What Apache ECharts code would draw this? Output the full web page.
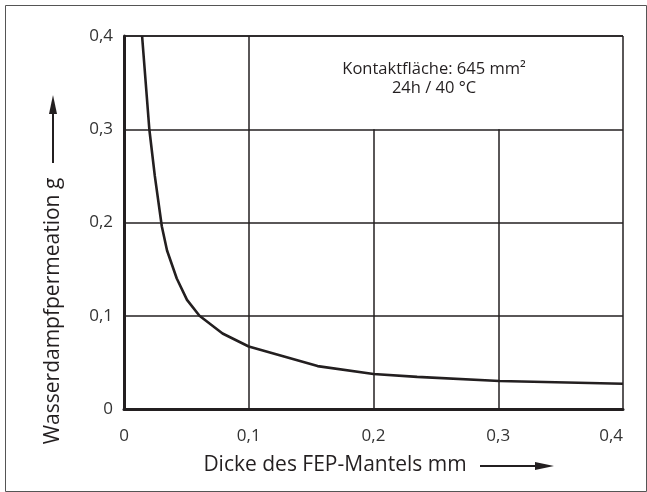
<!DOCTYPE html>
<html>
<head>
<meta charset="utf-8">
<script src="https://cdn.jsdelivr.net/npm/echarts@6/dist/echarts.min.js"></script>
<style>
  html, body { margin: 0; padding: 0; background: #fff; }
  #chart { width: 647px; height: 492px; }
</style>
</head>
<body>
<div id="chart"></div>
<script>
// FEP jacket thickness (mm) vs. water vapour permeation (g)
const thickness = [0.0145, 0.0203, 0.0247, 0.0303, 0.0345, 0.0423, 0.0505, 0.0605, 0.0790, 0.1000, 0.1290, 0.1552, 0.2000, 0.2350, 0.3010, 0.4000];
const permeation = [0.400, 0.300, 0.250, 0.196, 0.170, 0.140, 0.117, 0.100, 0.081, 0.067, 0.056, 0.046, 0.0375, 0.0345, 0.030, 0.027];

// Vertical grid lines: x position and upper end (the top band holds the note box)
const gridX = [0.1, 0.2, 0.3];
const gridTop = [0.4, 0.3, 0.3];

const xTicks = ['0', '0,1', '0,2', '0,3', '0,4'];
const yTicks = ['0', '0,1', '0,2', '0,3', '0,4'];

const noteLines = ['Kontaktfläche: 645 mm²', '24h / 40 °C'];

const FONT = '"Open Sans", "DejaVu Sans", sans-serif';
const INK = '#231f20';

const chart = echarts.init(document.getElementById('chart'), null, { renderer: 'canvas' });

const idx = v => Math.round(v * 10);

chart.setOption({
  animation: false,
  backgroundColor: '#fff',
  grid: { left: 124, right: 24, top: 36, bottom: 83, show: false },
  xAxis: {
    type: 'value', min: 0, max: 0.4, interval: 0.1,
    name: 'Dicke des FEP-Mantels mm',
    nameLocation: 'middle', nameGap: 46,
    nameTextStyle: { fontFamily: FONT, fontSize: 21, color: INK, padding: [0, 77, 0, 0] },
    axisLine: { show: true, lineStyle: { color: INK, width: 3 } },
    axisTick: { show: false },
    splitLine: { show: false },
    axisLabel: {
      fontFamily: FONT, fontSize: 17, color: '#333', margin: 19,
      formatter: v => xTicks[idx(v)],
      alignMaxLabel: 'right'
    }
  },
  yAxis: {
    type: 'value', min: 0, max: 0.4, interval: 0.1,
    name: 'Wasserdampfpermeation g',
    nameLocation: 'middle', nameGap: 60,
    nameTextStyle: { fontFamily: FONT, fontSize: 21, color: INK, padding: [0, 177, 0, 0] },
    axisLine: { show: true, lineStyle: { color: INK, width: 3 } },
    axisTick: { show: false },
    splitLine: { show: true, lineStyle: { color: INK, width: 1.5 } },
    axisLabel: {
      fontFamily: FONT, fontSize: 17, color: '#333', margin: 11,
      formatter: v => yTicks[idx(v)]
    }
  },
  series: [
    {
      type: 'line',
      data: thickness.map((t, i) => [t, permeation[i]]),
      showSymbol: false,
      smooth: false,
      lineStyle: { color: INK, width: 2.6 },
      z: 5,
      markLine: {
        silent: true,
        symbol: ['none', 'none'],
        label: { show: false },
        lineStyle: { color: INK, width: 1.5, type: 'solid' },
        data: gridX.map((x, i) => [{ coord: [x, 0] }, { coord: [x, gridTop[i]] }])
          .concat([
            [{ coord: [0, 0.4] }, { coord: [0.4, 0.4] }],
            [{ coord: [0.4, 0] }, { coord: [0.4, 0.4] }]
          ])
      }
    }
  ],
  graphic: [
    // outer frame
    { type: 'rect', left: 3, top: 3, shape: { width: 641, height: 486 },
      style: { fill: 'none', stroke: '#555', lineWidth: 1 }, silent: true },
    // note inside the top band
    { type: 'text', x: 434, y: 79, style: {
        text: noteLines.join('\n'), fontFamily: FONT, fontSize: 16.5, lineHeight: 19,
        fill: INK, align: 'center', verticalAlign: 'middle' }, silent: true, z: 10 },
    // x-axis direction arrow
    { type: 'line', shape: { x1: 480, y1: 466, x2: 537, y2: 466 },
      style: { stroke: INK, lineWidth: 2 }, silent: true },
    { type: 'polygon', shape: { points: [[535, 462], [554, 466], [535, 470]] },
      style: { fill: INK }, silent: true },
    // y-axis direction arrow
    { type: 'line', shape: { x1: 53, y1: 163, x2: 53, y2: 112 },
      style: { stroke: INK, lineWidth: 2 }, silent: true },
    { type: 'polygon', shape: { points: [[49, 114], [53, 95], [57, 114]] },
      style: { fill: INK }, silent: true }
  ]
});
</script>
</body>
</html>
